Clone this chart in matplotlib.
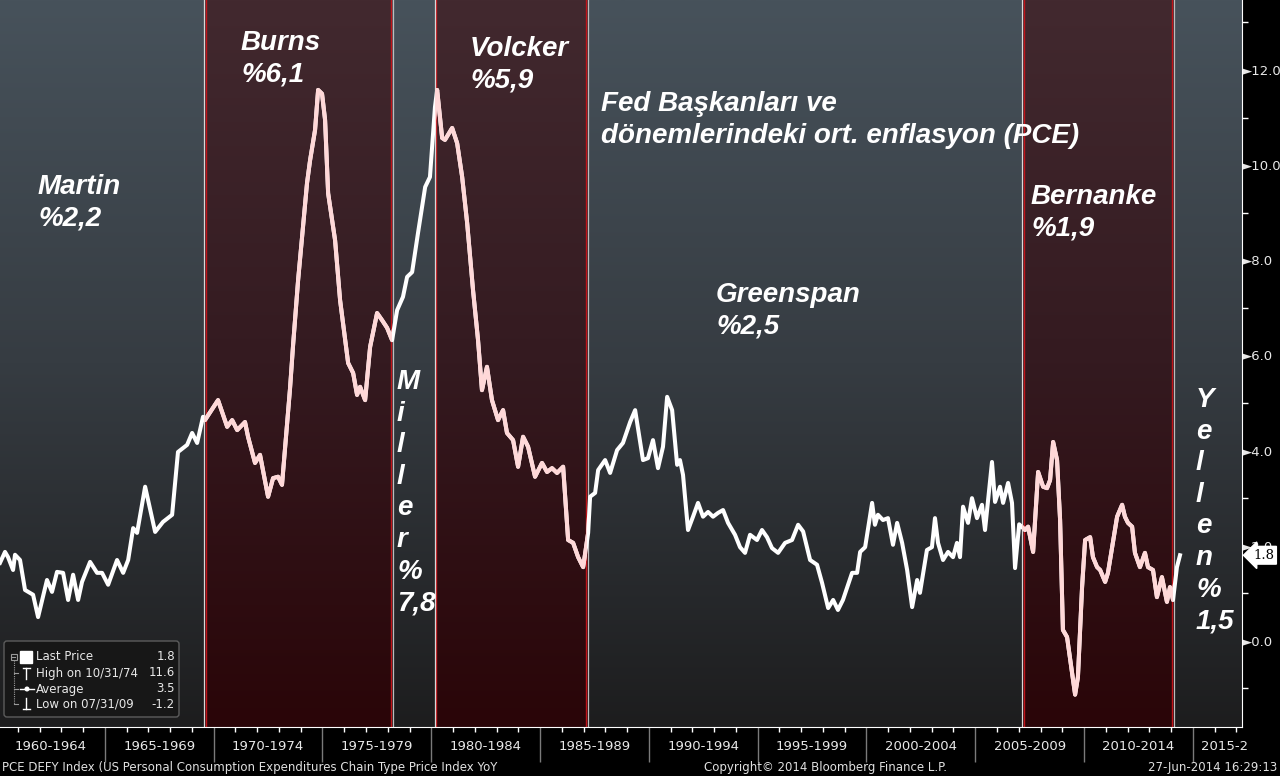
import numpy as np
import matplotlib.pyplot as plt
import matplotlib.transforms as mtransforms
from matplotlib.colors import LinearSegmentedColormap
from matplotlib.patches import Rectangle, FancyBboxPatch, Circle

# --------------------------------------------------------------------
# DATA (PCE deflator YoY %)
# --------------------------------------------------------------------
years = [
    1960.18, 1960.41, 1960.55, 1960.78, 1960.87, 1961.10, 1961.33, 1961.70, 1961.93, 1962.34,
    1962.57, 1962.80, 1963.08, 1963.31, 1963.54, 1963.77, 1963.95, 1964.32, 1964.64, 1964.87,
    1965.15, 1965.56, 1965.84, 1966.07, 1966.30, 1966.48, 1966.85, 1967.31, 1967.67, 1968.09,
    1968.36, 1968.78, 1969.01, 1969.24, 1969.51, 1969.60, 1970.20, 1970.62, 1970.85, 1971.08,
    1971.44, 1971.58, 1971.90, 1972.13, 1972.50, 1972.73, 1972.96, 1973.14, 1973.51, 1973.65,
    1973.88, 1974.29, 1974.43, 1974.66, 1974.80, 1974.98, 1975.12, 1975.26, 1975.58, 1975.81,
    1976.18, 1976.41, 1976.59, 1976.73, 1976.96, 1977.19, 1977.51, 1977.74, 1977.97, 1978.20,
    1978.43, 1978.70, 1978.89, 1979.12, 1979.39, 1979.72, 1979.94, 1980.17, 1980.27, 1980.50,
    1980.63, 1980.96, 1981.19, 1981.42, 1981.65, 1981.92, 1982.15, 1982.33, 1982.56, 1982.79,
    1983.07, 1983.30, 1983.48, 1983.76, 1983.99, 1984.22, 1984.45, 1984.77, 1985.09, 1985.32,
    1985.55, 1985.78, 1986.06, 1986.29, 1986.52, 1986.75, 1986.98, 1987.21, 1987.30, 1987.53,
    1987.67, 1987.99, 1988.22, 1988.54, 1988.81, 1989.14, 1989.37, 1989.73, 1989.96, 1990.19,
    1990.42, 1990.65, 1990.84, 1991.07, 1991.30, 1991.43, 1991.57, 1991.80, 1992.03, 1992.26,
    1992.49, 1992.72, 1992.95, 1993.18, 1993.41, 1993.64, 1993.96, 1994.19, 1994.42, 1994.65,
    1994.97, 1995.20, 1995.43, 1995.66, 1995.94, 1996.26, 1996.58, 1996.86, 1997.09, 1997.41,
    1997.73, 1997.96, 1998.24, 1998.47, 1998.69, 1998.92, 1999.34, 1999.57, 1999.71, 1999.94,
    2000.26, 2000.39, 2000.53, 2000.76, 2000.99, 2001.22, 2001.41, 2001.64, 2001.87, 2002.10,
    2002.33, 2002.46, 2002.78, 2003.01, 2003.15, 2003.29, 2003.52, 2003.75, 2003.98, 2004.16,
    2004.30, 2004.44, 2004.67, 2004.85, 2005.08, 2005.31, 2005.45, 2005.77, 2005.91, 2006.14,
    2006.28, 2006.51, 2006.69, 2006.83, 2007.02, 2007.29, 2007.43, 2007.66, 2007.89, 2008.12,
    2008.30, 2008.44, 2008.58, 2008.76, 2008.90, 2009.03, 2009.22, 2009.45, 2009.59, 2009.72,
    2009.91, 2010.05, 2010.28, 2010.41, 2010.60, 2010.74, 2010.97, 2011.10, 2011.29, 2011.52,
    2011.75, 2011.88, 2012.02, 2012.21, 2012.34, 2012.57, 2012.80, 2012.94, 2013.17, 2013.35,
    2013.58, 2013.81, 2013.95, 2014.09, 2014.27, 2014.41,
]
pce = [
    1.64, 1.87, 1.76, 1.49, 1.81, 1.70, 1.07, 0.97, 0.50, 1.28,
    1.03, 1.45, 1.43, 0.86, 1.39, 0.86, 1.24, 1.66, 1.43, 1.43,
    1.18, 1.70, 1.43, 1.70, 2.37, 2.27, 3.24, 2.29, 2.50, 2.65,
    3.97, 4.12, 4.37, 4.16, 4.71, 4.64, 5.06, 4.50, 4.64, 4.43,
    4.60, 4.29, 3.74, 3.91, 3.03, 3.42, 3.45, 3.28, 5.31, 6.22,
    7.58, 9.62, 10.10, 10.74, 11.58, 11.50, 10.95, 9.41, 8.42, 7.16,
    5.84, 5.63, 5.17, 5.34, 5.06, 6.18, 6.89, 6.74, 6.58, 6.32,
    6.95, 7.23, 7.65, 7.75, 8.57, 9.54, 9.75, 11.22, 11.58, 10.57,
    10.53, 10.78, 10.46, 9.75, 8.78, 7.37, 6.32, 5.27, 5.76, 5.06,
    4.64, 4.85, 4.37, 4.22, 3.66, 4.29, 4.08, 3.45, 3.74, 3.55,
    3.63, 3.53, 3.66, 2.12, 2.06, 1.76, 1.55, 2.27, 3.03, 3.11,
    3.59, 3.80, 3.53, 4.01, 4.16, 4.60, 4.85, 3.80, 3.84, 4.22,
    3.63, 4.08, 5.13, 4.85, 3.70, 3.80, 3.49, 2.33, 2.61, 2.90,
    2.61, 2.71, 2.61, 2.69, 2.75, 2.48, 2.23, 1.97, 1.85, 2.23,
    2.12, 2.33, 2.18, 1.95, 1.85, 2.06, 2.12, 2.44, 2.30, 1.70,
    1.60, 1.22, 0.69, 0.86, 0.65, 0.86, 1.43, 1.43, 1.87, 1.97,
    2.90, 2.44, 2.65, 2.54, 2.58, 2.02, 2.48, 2.06, 1.49, 0.71,
    1.28, 1.01, 1.91, 1.97, 2.58, 2.06, 1.70, 1.87, 1.76, 2.06,
    1.76, 2.82, 2.48, 3.00, 2.58, 2.86, 2.33, 3.76, 2.92, 3.24,
    2.90, 3.32, 2.90, 1.53, 2.45, 2.33, 2.40, 1.87, 3.55, 3.24,
    3.21, 3.38, 4.18, 3.80, 2.54, 0.23, 0.08, -0.67, -1.13, -0.76,
    1.13, 2.12, 2.18, 1.76, 1.55, 1.49, 1.24, 1.43, 1.97, 2.61,
    2.86, 2.61, 2.48, 2.40, 1.85, 1.55, 1.85, 1.55, 1.49, 0.92,
    1.34, 0.82, 1.13, 0.86, 1.55, 1.80,
]

# shaded Fed chair terms (Burns, Volcker, Bernanke)
band_start = [1969.56, 1980.17, 2007.15]
band_end = [1978.20, 1987.16, 2014.09]

chair_text = ['Martin\n%2,2', 'Burns\n%6,1', 'M\ni\nl\nl\ne\nr\n%\n7,8', 'Volcker\n%5,9',
              'Greenspan\n%2,5', 'Bernanke\n%1,9', 'Y\ne\nl\nl\ne\nn\n%\n1,5']
chair_px = [(38, 174), (241, 30), (397, 369), (470, 36), (716, 282), (1031, 184), (1196, 387)]
title_text = 'Fed Başkanları ve\ndönemlerindeki ort. enflasyon (PCE)'

period_starts = [1960, 1965, 1970, 1975, 1980, 1985, 1990, 1995, 2000, 2005, 2010]
period_labels = ['1960-1964', '1965-1969', '1970-1974', '1975-1979', '1980-1984', '1985-1989',
                 '1990-1994', '1995-1999', '2000-2004', '2005-2009', '2010-2014']
yticks = [0, 2, 4, 6, 8, 10, 12]
last_price = 1.8

legend_names = ['Last Price', 'High on 10/31/74', 'Average', 'Low on 07/31/09']
legend_vals = ['1.8', '11.6', '3.5', '-1.2']

# --------------------------------------------------------------------
# PLOT
# --------------------------------------------------------------------
W, H = 1280, 776
fig = plt.figure(figsize=(W / 100, H / 100), dpi=100, facecolor='black')
ax = fig.add_axes([0, 49 / H, 1242 / W, 727 / H])
xlim = (1960.18, 2017.26)
ylim = (-1.81, 13.47)

grad = np.linspace(0, 1, 256).reshape(-1, 1)
bg_cmap = LinearSegmentedColormap.from_list('bg', ['#47525b', '#363c42', '#1d1d1e'])
band_cmap = LinearSegmentedColormap.from_list('band', ['#42292f', '#341a20', '#2a0508'])
ax.imshow(grad, extent=[xlim[0], xlim[1], ylim[0], ylim[1]], aspect='auto',
          cmap=bg_cmap, origin='upper', zorder=0)
for s, e in zip(band_start, band_end):
    ax.imshow(grad, extent=[s, e, ylim[0], ylim[1]], aspect='auto',
              cmap=band_cmap, origin='upper', zorder=1)
    ax.axvline(s + 0.07, color='#c0141a', lw=1, zorder=2)
    ax.axvline(e - 0.07, color='#c0141a', lw=1, zorder=2)
    ax.axvline(s - 0.02, color='#d8d8d8', lw=0.9, zorder=2)
    ax.axvline(e + 0.04, color='#bdbdbd', lw=0.9, zorder=2)

ax.plot(years, pce, color='white', lw=2.9, zorder=3, solid_joinstyle='round')
for s, e in zip(band_start, band_end):
    pink, = ax.plot(years, pce, color='#ffd8d8', lw=2.9, zorder=4, solid_joinstyle='round')
    pink.set_clip_path(Rectangle((s, ylim[0]), e - s, ylim[1] - ylim[0], transform=ax.transData))

ax.set_xlim(*xlim)
ax.set_ylim(*ylim)

# right axis
ax.yaxis.tick_right()
ax.set_yticks(yticks)
ax.set_yticklabels(['\u25BA%.1f' % v for v in yticks])
ax.set_yticks([-1, 1, 3, 5, 7, 9, 11, 13], minor=True)
ax.tick_params(axis='y', which='major', length=0, pad=0, labelsize=9.5, labelcolor='#e8e8e8')
ax.tick_params(axis='y', which='minor', length=4, width=1, color='white')

# bottom axis
ax.set_xticks(period_starts[1:] + [2015])
ax.set_xticklabels([])
ax.set_xticks(range(1961, 2018), minor=True)
ax.tick_params(axis='x', which='major', length=25, width=1, color='#7a7a7a')
ax.tick_params(axis='x', which='minor', length=3.5, width=1, color='white')
for sp in ['top', 'left']:
    ax.spines[sp].set_visible(False)
ax.spines['right'].set_color('white')
ax.spines['bottom'].set_color('white')

xtr = mtransforms.blended_transform_factory(ax.transData, ax.transAxes)
for s, lab in zip(period_starts, period_labels):
    ax.text(s + 2.5, -19 / 727, lab, transform=xtr, ha='center', va='center',
            fontsize=9.5, color='#e8e8e8', clip_on=False)
ax.text(2015.38, -19 / 727, '2015-2', transform=xtr, ha='left', va='center',
        fontsize=9.5, color='#e8e8e8', clip_on=False)

# last price tag
ytr = mtransforms.blended_transform_factory(ax.transAxes, ax.transData)
ax.text(1253 / 1242, last_price, '%.1f' % last_price, transform=ytr, ha='left', va='center',
        fontsize=9.5, family='DejaVu Serif', color='black', clip_on=False, zorder=20,
        bbox=dict(boxstyle='larrow,pad=0.18', fc='white', ec='white'))

# chair annotations
def px(x, y):
    return x / 1242, 1 - y / 727

font = dict(family='Liberation Sans', weight='bold', style='italic', color='white')
for txt, (x, y) in zip(chair_text, chair_px):
    ax.text(*px(x, y), txt, transform=ax.transAxes, ha='left', va='top',
            fontsize=20, linespacing=1.28, zorder=10, **font)
ax.text(*px(601, 91), title_text, transform=ax.transAxes, ha='left', va='top',
        fontsize=20, linespacing=1.28, zorder=10, **font)

# footer
fig.text(2 / W, 1 - 767 / H, 'PCE DEFY Index (US Personal Consumption Expenditures Chain Type Price Index YoY',
         ha='left', va='center', fontsize=8.5, color='#e0e0e0')
fig.text(825 / W, 1 - 767 / H, 'Copyright\u00a9 2014 Bloomberg Finance L.P.',
         ha='center', va='center', fontsize=8.5, color='#e0e0e0')
fig.text(1277 / W, 1 - 767 / H, '27-Jun-2014 16:29:13',
         ha='right', va='center', fontsize=8.5, color='#e0e0e0')

# legend box (pixel coordinates inside a small axes)
lax = fig.add_axes([3 / W, 1 - 718 / H, 177 / W, 78 / H])
lax.set_xlim(0, 177)
lax.set_ylim(78, 0)
lax.axis('off')
lax.add_patch(FancyBboxPatch((1, 1), 175, 76, boxstyle='round,pad=0,rounding_size=3',
                             fc='#171717', ec='#5c5c5c', lw=1))
rows = [17, 33, 49, 64]
for r, name, val in zip(rows, legend_names, legend_vals):
    lax.text(33, r, name, ha='left', va='center', fontsize=8.5, color='#e8e8e8')
    lax.text(172, r, val, ha='right', va='center', fontsize=8.5, color='#e8e8e8')
gray = '#9a9a9a'
lax.add_patch(Rectangle((7.5, 14), 6, 6, fc='none', ec=gray, lw=0.8))
lax.plot([9, 12], [17, 17], color=gray, lw=0.8)
lax.plot([10.5, 10.5], [20, 64], color=gray, lw=0.8, ls=(0, (1, 1)))
for r in rows[1:]:
    lax.plot([10.5, 15], [r, r], color=gray, lw=0.8)
lax.add_patch(Rectangle((17, 11), 12, 12, fc='white', ec='white'))
lax.plot([23, 23], [28, 39], color='white', lw=1)
lax.plot([19.5, 26.5], [28, 28], color='white', lw=1)
lax.plot([17, 31], [49, 49], color='white', lw=1)
lax.add_patch(Circle((24, 49), 1.8, fc='white', ec='white'))
lax.plot([23, 23], [58, 69], color='white', lw=1)
lax.plot([19.5, 26.5], [69, 69], color='white', lw=1)

fig.savefig('out.png', dpi=100, facecolor='black')
